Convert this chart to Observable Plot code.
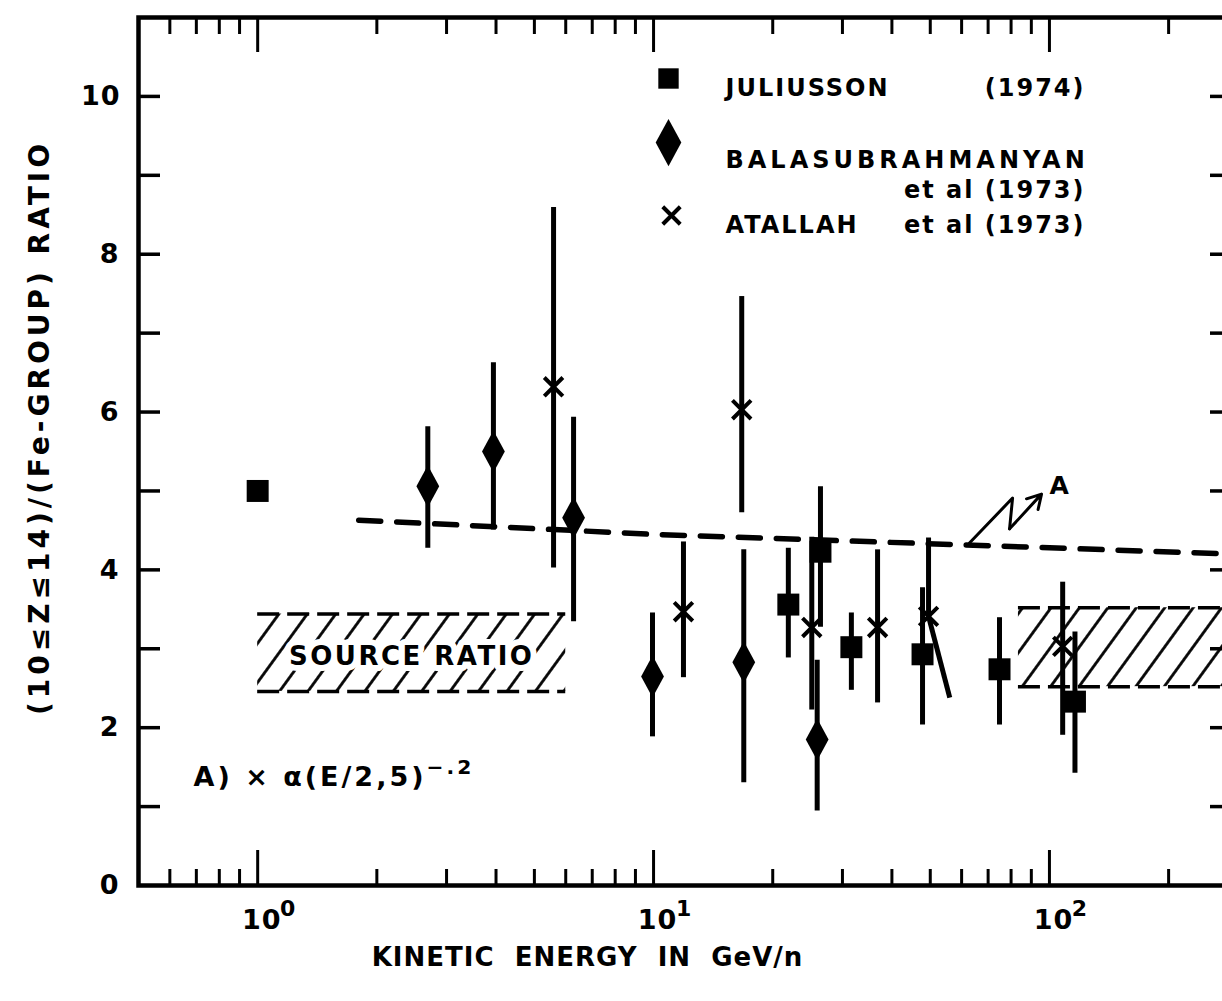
<!DOCTYPE html>
<html><head><meta charset="utf-8">
<script src="https://cdn.jsdelivr.net/npm/d3@7"></script>
<script src="https://cdn.jsdelivr.net/npm/@observablehq/plot@0.6"></script>
<style>
html,body{margin:0;padding:0;background:#fff;overflow:hidden;}
#chart{width:1222px;height:1001px;overflow:hidden;position:relative;}
#chart svg{max-width:none !important;display:block;}
</style></head><body><div id="chart"></div>
<script>
// ---------- data ----------
// Juliusson (1974) — squares
const julE  = [1.0, 21.9, 26.4, 31.6, 47.8, 74.8, 116];
const julR  = [5.0, 3.56, 4.23, 3.02, 2.93, 2.74, 2.33];
const julHi = [null, 4.28, 5.06, 3.46, 3.78, 3.40, 3.22];
const julLo = [null, 2.89, 3.28, 2.48, 2.04, 2.04, 1.43];
// Balasubrahmanyan et al (1973) — diamonds
const balE  = [2.69, 3.94, 6.28, 9.94, 16.9, 25.9];
const balR  = [5.06, 5.50, 4.66, 2.65, 2.83, 1.85];
const balHi = [5.82, 6.63, 5.94, 3.46, 4.26, 2.86];
const balLo = [4.28, 4.51, 3.35, 1.89, 1.31, 0.95];
// Atallah et al (1973) — crosses
const atE   = [5.59, 11.9, 16.7, 25.1, 36.8, 49.5, 108];
const atR   = [6.32, 3.47, 6.03, 3.27, 3.27, 3.41, 3.03];
const atHi  = [8.60, 4.36, 7.47, 4.42, 4.26, 4.41, 3.85];
const atLo  = [4.03, 2.64, 4.73, 2.23, 2.32, 2.38, 1.91];
const atLoE = [5.59, 11.9, 16.7, 25.1, 36.8, 56.0, 108];
// curve A: X ∝ (E/2.5)^-.2
const curveE = [1.8, 10, 100, 290];
const curveR = [4.63, 4.45, 4.28, 4.20];
// source ratio bands
const srcE1 = [1.0, 83.5];
const srcE2 = [6.0, 290];
const srcLo = [2.46, 2.52];
const srcHi = [3.44, 3.52];
const srcText = "SOURCE RATIO";
// pointer to curve A
const zigE = [62.8, 80.7, 79.3];
const zigR = [4.34, 4.91, 4.52];
const tipE = [95.5];
const tipR = [4.96];
const tipLabel = "A";
// axes
const xDomain = [0.5, 290];
const yDomain = [0, 11];
const xMajor = [1, 10, 100];
const xMajorBase = ["10", "10", "10"];
const xMajorExp = ["0", "1", "2"];
const xMinor = [0.6,0.7,0.8,0.9,2,3,4,5,6,7,8,9,20,30,40,50,60,70,80,90,200];
const yTicks = [1,2,3,4,5,6,7,8,9,10];
const yLabels = [0,2,4,6,8,10];
const xTitle = "KINETIC  ENERGY  IN  GeV/n";
const yTitle = "(10≤Z≤14)/(Fe-GROUP) RATIO";
const legendNames = ["JULIUSSON", "BALASUBRAHMANYAN", "ATALLAH"];
const legendYears = ["(1974)", "et al (1973)", "et al (1973)"];
const formulaBase = "A) × α(E/2,5)";
const formulaExp = "−.2";

// ---------- build tables ----------
const jul = julE.map((e,i)=>({e, r: julR[i], hi: julHi[i], lo: julLo[i]}));
const bal = balE.map((e,i)=>({e, r: balR[i], hi: balHi[i], lo: balLo[i]}));
const ata = atE.map((e,i)=>({e, r: atR[i], hi: atHi[i], lo: atLo[i], le: atLoE[i]}));
const curve = curveE.map((e,i)=>({e, r: curveR[i]}));
const src = srcE1.map((e1,i)=>({e1, e2: srcE2[i], lo: srcLo[i], hi: srcHi[i]}));
const zig = zigE.map((e,i)=>({e, r: zigR[i]}));

// tall diamond symbol
const tallDiamond = {
  draw(ctx, size) {
    const r = Math.sqrt(size / Math.PI);
    const hw = 0.95 * r, hh = 1.75 * r;
    ctx.moveTo(0, -hh); ctx.lineTo(hw, 0); ctx.lineTo(0, hh); ctx.lineTo(-hw, 0); ctx.closePath();
  }
};

const W = 1260, H = 1001;
const mL = 138, mR = 28, mT = 17, mB = 116;
const fw = W - mL - mR, fh = H - mT - mB;
const FONT = "'DejaVu Sans', sans-serif";

const svg = Plot.plot({
  width: W, height: H,
  marginLeft: mL, marginRight: mR, marginTop: mT, marginBottom: mB,
  x: {type: "log", domain: xDomain, axis: null},
  y: {domain: yDomain, axis: null},
  style: {fontFamily: FONT, fontWeight: "bold", background: "white", color: "black", letterSpacing: "2px", maxWidth: "none"},
  marks: [
    // source ratio bands
    Plot.rectY(src, {x1: "e1", x2: "e2", y1: "lo", y2: "hi", fill: "url(#hatch)"}),
    Plot.ruleY(src, {y: "hi", x1: "e1", x2: "e2", stroke: "black", strokeWidth: 3.5, strokeDasharray: "22,8"}),
    Plot.ruleY(src, {y: "lo", x1: "e1", x2: "e2", stroke: "black", strokeWidth: 3.5, strokeDasharray: "22,8"}),
    Plot.text(src.slice(0,1), {x: d => Math.sqrt(d.e1*d.e2), y: d => (d.lo+d.hi)/2, text: () => srcText, dy: 4,
      fontSize: 26, fill: "black", stroke: "white", strokeWidth: 12}),
    // curve A
    Plot.line(curve, {x: "e", y: "r", stroke: "black", strokeWidth: 5.5, strokeDasharray: "22,16", strokeLinecap: "round"}),
    Plot.line(zig, {x: "e", y: "r", stroke: "black", strokeWidth: 3}),
    Plot.arrow([0], {x1: () => zigE[2], y1: () => zigR[2], x2: () => tipE[0], y2: () => tipR[0], stroke: "black", strokeWidth: 3, headLength: 12}),
    Plot.text([tipLabel], {x: () => tipE[0], y: () => tipR[0], text: d => d, dx: 8, dy: -8, textAnchor: "start", fontSize: 25}),
    // error bars
    Plot.link(jul.filter(d => d.hi != null), {x1: "e", x2: "e", y1: "hi", y2: "lo", stroke: "black", strokeWidth: 5}),
    Plot.link(bal, {x1: "e", x2: "e", y1: "hi", y2: "lo", stroke: "black", strokeWidth: 5}),
    Plot.link(ata, {x1: "e", x2: "e", y1: "hi", y2: "r", stroke: "black", strokeWidth: 5}),
    Plot.link(ata, {x1: "e", x2: "le", y1: "r", y2: "lo", stroke: "black", strokeWidth: 5}),
    // symbols
    Plot.dot(jul, {x: "e", y: "r", symbol: "square", r: 12.4, fill: "black"}),
    Plot.dot(bal, {x: "e", y: "r", symbol: tallDiamond, r: 12, fill: "black"}),
    Plot.dot(ata, {x: "e", y: "r", symbol: "times", r: 8.5, stroke: "black", strokeWidth: 4}),
    // frame & ticks
    Plot.frame({stroke: "black", strokeWidth: 4.5}),
    Plot.tickX(xMinor, {x: d => d, insetTop: fh - 16, stroke: "black", strokeWidth: 3}),
    Plot.tickX(xMajor, {x: d => d, insetTop: fh - 35, stroke: "black", strokeWidth: 3}),
    Plot.tickX(xMinor, {x: d => d, insetBottom: fh - 17, stroke: "black", strokeWidth: 3}),
    Plot.tickX(xMajor, {x: d => d, insetBottom: fh - 35, stroke: "black", strokeWidth: 3}),
    Plot.tickY(yTicks, {y: d => d, insetRight: fw - 22, stroke: "black", strokeWidth: 3.5}),
    Plot.tickY(yTicks, {y: d => d, insetLeft: fw - 22, stroke: "black", strokeWidth: 3.5}),
    // tick labels
    Plot.text(xMajor, {x: d => d, frameAnchor: "bottom", text: (d,i) => xMajorBase[i], dy: 43, dx: 4, fontSize: 27}),
    Plot.text(xMajor, {x: d => d, frameAnchor: "bottom", text: (d,i) => xMajorExp[i], dy: 30, dx: 31, fontSize: 22}),
    Plot.text(yLabels, {y: d => d, frameAnchor: "left", text: d => String(d), dx: -18, textAnchor: "end", fontSize: 27}),
    // titles
    Plot.text([xTitle], {frameAnchor: "bottom", text: d => d, dx: -98, dy: 80, textAnchor: "middle", fontSize: 26}),
    Plot.text([yTitle], {frameAnchor: "left", text: d => d, dx: -98, dy: -24, rotate: -90, textAnchor: "middle", fontSize: 28}),
    // formula
    Plot.text([formulaBase], {frameAnchor: "bottom-left", text: d => d, dx: 55, dy: -100, textAnchor: "start", fontSize: 27}),
    // legend
    Plot.dot([0], {frameAnchor: "top-left", dx: 530, dy: 61, symbol: "square", r: 11.5, fill: "black"}),
    Plot.dot([0], {frameAnchor: "top-left", dx: 530, dy: 125, symbol: tallDiamond, r: 13.5, fill: "black"}),
    Plot.dot([0], {frameAnchor: "top-left", dx: 533, dy: 198, symbol: "times", r: 8, stroke: "black", strokeWidth: 4}),
    Plot.text([legendNames[0]], {frameAnchor: "top-left", dx: 587, dy: 61, text: d => d, textAnchor: "start", fontSize: 24}),
    Plot.text([legendNames[1]], {frameAnchor: "top-left", dx: 587, dy: 133, text: d => d, textAnchor: "start", fontSize: 24}),
    Plot.text([legendNames[2]], {frameAnchor: "top-left", dx: 587, dy: 198, text: d => d, textAnchor: "start", fontSize: 24}),
    Plot.text([legendYears[0]], {frameAnchor: "top-left", dx: 947, dy: 61, text: d => d, textAnchor: "end", fontSize: 24}),
    Plot.text([legendYears[1]], {frameAnchor: "top-left", dx: 947, dy: 163, text: d => d, textAnchor: "end", fontSize: 24}),
    Plot.text([legendYears[2]], {frameAnchor: "top-left", dx: 947, dy: 198, text: d => d, textAnchor: "end", fontSize: 24})
  ]
});

// hatch pattern
const defs = d3.select(svg).insert("defs", ":first-child");
const pat = defs.append("pattern").attr("id", "hatch").attr("patternUnits", "userSpaceOnUse")
  .attr("width", 23).attr("height", 23).attr("patternTransform", "rotate(36)");
pat.append("line").attr("x1", 11.5).attr("x2", 11.5).attr("y1", -1).attr("y2", 24)
  .attr("stroke", "black").attr("stroke-width", 2.8);

// per-text letter spacing
const spacing = new Map([
  [yTitle, "4px"], [xTitle, "1px"], [legendNames[1], "4px"], [formulaBase, "3px"],
  [srcText, "2.5px"], ["10", "1px"]
]);
d3.select(svg).selectAll("text").each(function() {
  const ls = spacing.get(this.textContent);
  if (ls) this.style.letterSpacing = ls;
});

// superscript for formula
d3.select(svg).selectAll("text").filter(function() { return this.textContent === formulaBase; })
  .append("tspan").attr("dy", "-0.55em").attr("font-size", "0.75em").text(formulaExp);

document.getElementById("chart").appendChild(svg);
</script></body></html>
